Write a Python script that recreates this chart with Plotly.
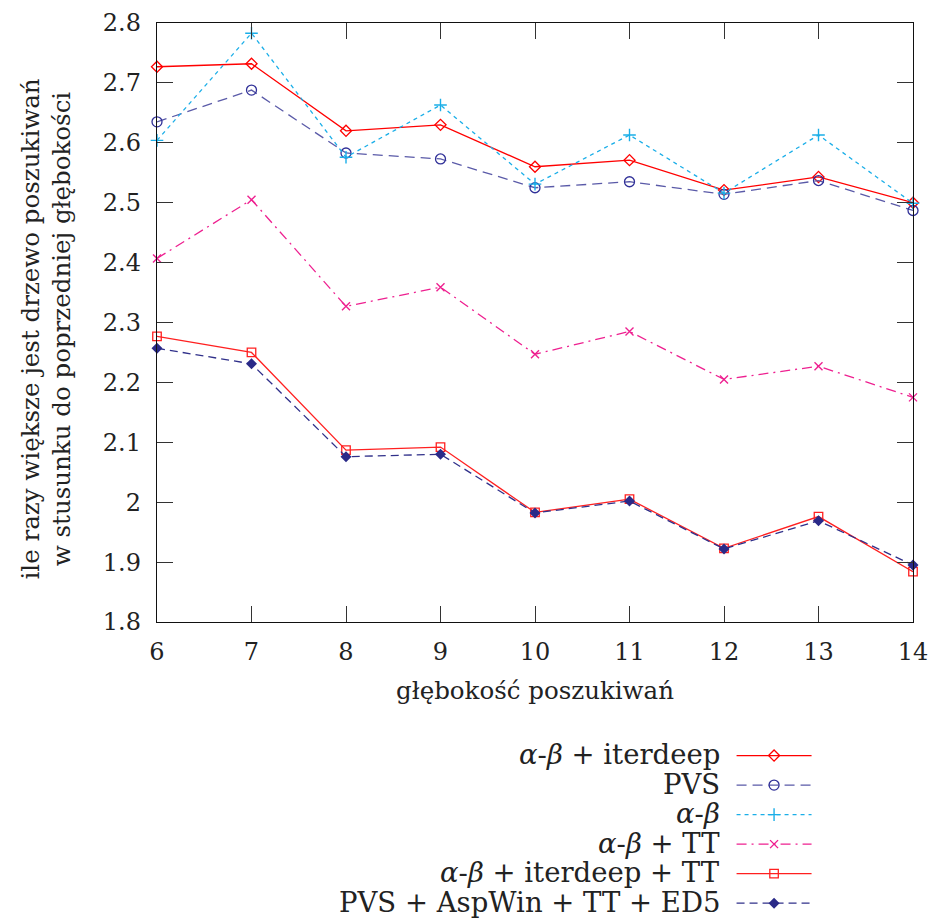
import plotly.graph_objects as go

depth = [6, 7, 8, 9, 10, 11, 12, 13, 14]

series_names = [
    "<i>α</i>-<i>β</i> + iterdeep",
    "PVS",
    "<i>α</i>-<i>β</i>",
    "<i>α</i>-<i>β</i> + TT",
    "<i>α</i>-<i>β</i> + iterdeep + TT",
    "PVS + AspWin + TT + ED5",
]

ab_iterdeep = [2.727, 2.732, 2.620, 2.630, 2.560, 2.571, 2.521, 2.543, 2.500]
pvs = [2.635, 2.688, 2.583, 2.573, 2.525, 2.535, 2.514, 2.537, 2.487]
ab = [2.604, 2.783, 2.576, 2.663, 2.531, 2.613, 2.516, 2.613, 2.499]
ab_tt = [2.407, 2.505, 2.327, 2.359, 2.247, 2.285, 2.205, 2.227, 2.175]
ab_iterdeep_tt = [2.277, 2.250, 2.087, 2.092, 1.983, 2.005, 1.923, 1.976, 1.884]
pvs_asp_tt_ed5 = [2.257, 2.231, 2.076, 2.080, 1.982, 2.002, 1.922, 1.969, 1.895]

y_ticks = [1.8, 1.9, 2.0, 2.1, 2.2, 2.3, 2.4, 2.5, 2.6, 2.7, 2.8]
y_tick_labels = ["1.8", "1.9", "2", "2.1", "2.2", "2.3", "2.4", "2.5", "2.6", "2.7", "2.8"]

x_title = "głębokość poszukiwań"
y_title_lines = ["ile razy większe jest drzewo poszukiwań", "w stusunku do poprzedniej głębokości"]

all_values = [ab_iterdeep, pvs, ab, ab_tt, ab_iterdeep_tt, pvs_asp_tt_ed5]
styles = [
    dict(line=dict(color="#ff0000", width=1.3, dash="solid"),
         marker=dict(symbol="diamond-open", size=8.5, color="#ff0000", line=dict(width=1.3))),
    dict(line=dict(color="#5a5aa8", width=1.3, dash="10px,6px"),
         marker=dict(symbol="circle-open", size=10, color="#303098", line=dict(width=1.3))),
    dict(line=dict(color="#1aaee8", width=1.3, dash="4px,4px"),
         marker=dict(symbol="cross-thin-open", size=9, color="#1aaee8", line=dict(width=1.4, color="#1aaee8"))),
    dict(line=dict(color="#ee2090", width=1.3, dash="10px,5px,2px,5px"),
         marker=dict(symbol="x-thin-open", size=8, color="#ee2090", line=dict(width=1.4, color="#ee2090"))),
    dict(line=dict(color="#ff2020", width=1.3, dash="solid"),
         marker=dict(symbol="square-open", size=8.5, color="#ff2020", line=dict(width=1.3))),
    dict(line=dict(color="#30308a", width=1.3, dash="8px,5px"),
         marker=dict(symbol="diamond", size=8.5, color="#2a2a88", line=dict(width=0))),
]

fig = go.Figure()
for name, vals, st in zip(series_names, all_values, styles):
    fig.add_trace(go.Scatter(
        x=depth, y=vals, mode="lines+markers", name=" ",
        line=st["line"], marker=st["marker"], cliponaxis=False,
    ))

font_family = "DejaVu Serif"
txt_color = "#222222"

fig.update_layout(
    width=935, height=918,
    margin=dict(l=157, r=22, t=23, b=296, autoexpand=False),
    paper_bgcolor="white", plot_bgcolor="white",
    font=dict(family=font_family, size=24, color=txt_color),
    showlegend=True,
    legend=dict(
        x=0.760, y=-0.19, xanchor="left", yanchor="top",
        bgcolor="rgba(0,0,0,0)", font=dict(size=20.4, family=font_family),
        itemwidth=75, tracegroupgap=0, borderwidth=0,
    ),
    xaxis=dict(
        range=[6, 14], tickvals=depth, ticks="inside", ticklen=16,
        tickcolor="#333", showline=True, linecolor="#111", linewidth=1.4,
        mirror="allticks", showgrid=False, zeroline=False,
        tickfont=dict(size=24), ticklabelstandoff=8,
        title=dict(text=x_title, font=dict(size=24.5), standoff=16),
    ),
    yaxis=dict(
        range=[1.8, 2.8], tickvals=y_ticks, ticktext=y_tick_labels, ticks="inside",
        ticklen=16, tickcolor="#333", showline=True, linecolor="#111", linewidth=1.4,
        mirror="allticks", showgrid=False, zeroline=False,
        tickfont=dict(size=24), ticklabelstandoff=10,
    ),
)

for xpos, line in zip([-0.168, -0.126], y_title_lines):
    fig.add_annotation(
        x=xpos, y=0.49, xref="paper", yref="paper", textangle=-90,
        xanchor="center", yanchor="middle", text=line, showarrow=False,
        font=dict(size=24.5, family=font_family, color=txt_color),
    )

row0_px = 132.0
step_px = 29.5
for i, name in enumerate(series_names):
    fig.add_annotation(
        x=0.747, y=-(row0_px + i * step_px) / 599, xref="paper", yref="paper",
        xanchor="right", yanchor="middle", text=name, showarrow=False,
        font=dict(size=27.5, family=font_family, color=txt_color),
    )

fig.write_html("out.html")
